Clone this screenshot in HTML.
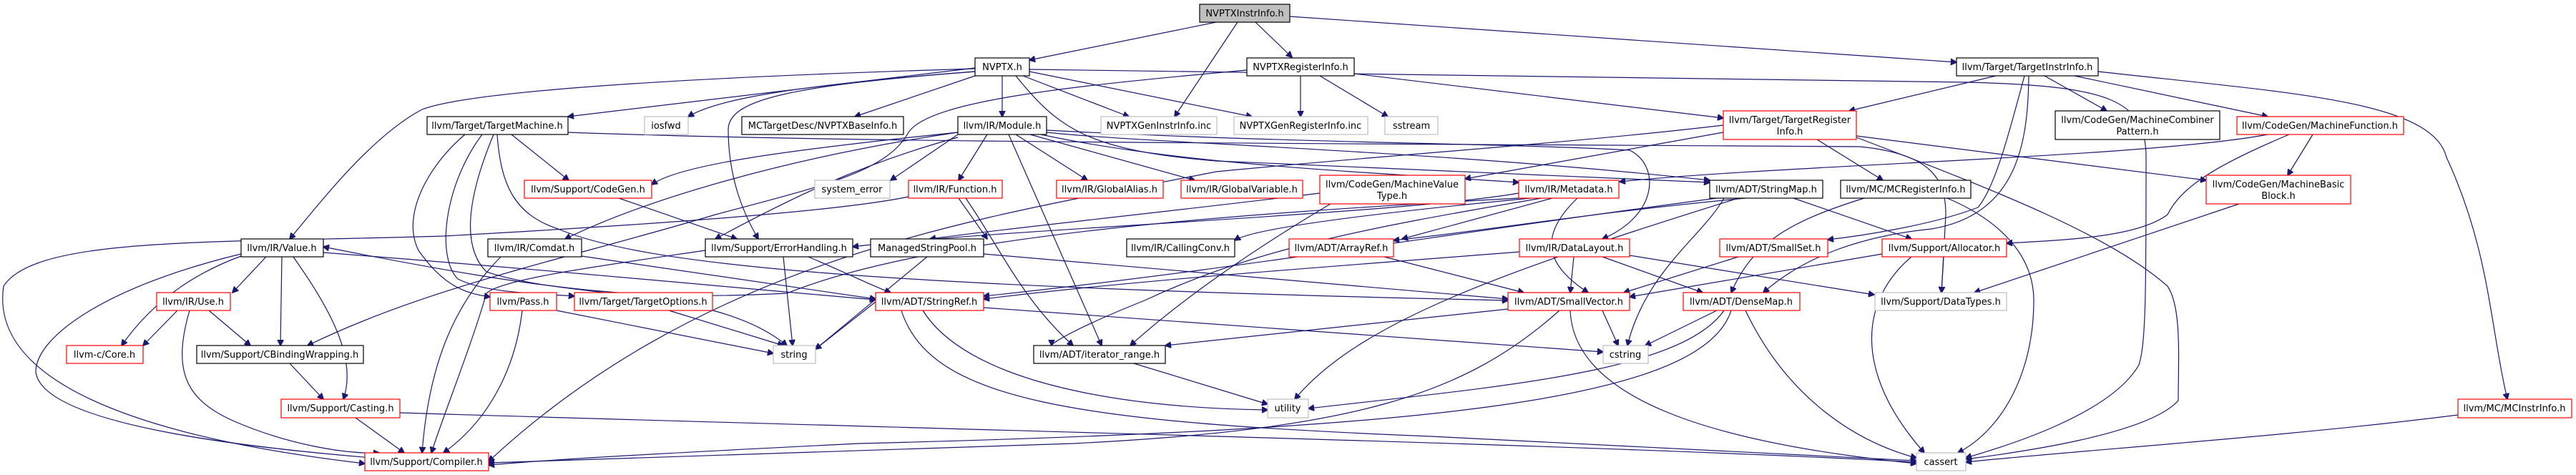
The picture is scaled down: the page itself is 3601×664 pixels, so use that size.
<!DOCTYPE html>
<html><head><meta charset="utf-8"><style>
html,body{margin:0;padding:0;background:#fff}
svg{display:block}
text{font-family:"DejaVu Sans","Liberation Sans",sans-serif;font-size:13px;fill:#000}
.e{fill:none;stroke:#191970;stroke-width:1.2}
.b{fill:#fff;stroke:#000;stroke-width:1.2}
.r{fill:#fff;stroke:#ff0000;stroke-width:1.2}
.g{fill:#fff;stroke:#bfbfbf;stroke-width:1.2}
</style></head><body>
<svg width="3601" height="664" viewBox="0 0 3601 664" xmlns="http://www.w3.org/2000/svg">
<defs><marker id="a" viewBox="0 0 10 10" refX="9" refY="5" markerWidth="9" markerHeight="9" orient="auto" markerUnits="userSpaceOnUse"><path d="M0,0 L10,5 L0,10 z" fill="#191970" stroke="#191970"/></marker></defs>
<g class="e" marker-end="url(#a)">
<path d="M1700,31 L1439,84"/>
<path d="M1730,31 L1642,163"/>
<path d="M1755,31 L1806,80"/>
<path d="M1803,23 L2735,87"/>
<path d="M1363,95 L794,163"/>
<path d="M1363,100 C1100,120 1000,140 962,163"/>
<path d="M1363,106 L1195,163"/>
<path d="M1401,106 L1401,163"/>
<path d="M1430,106 L1578,163"/>
<path d="M1439,100 L1750,163"/>
<path d="M1363,96 C900,110 650,130 590,153 C520,190 450,280 405,334"/>
<path d="M1363,100 C1100,120 1020,140 1018,180 C1018,250 1040,300 1060,334"/>
<path d="M1420,106 C1480,180 1520,210 1700,225 C2000,240 2200,245 2390,255"/>
<path d="M1439,97 C2000,105 2500,110 2750,115 C2950,120 3000,140 3000,220 C3000,400 3000,480 2990,510 C2950,580 2800,625 2748,640"/>
<path d="M1818,106 L1818,163"/>
<path d="M1845,106 L1940,163"/>
<path d="M1893,103 L2409,165"/>
<path d="M1743,98 C1500,120 1300,140 1270,185 C1240,240 1150,260 1000,300 C800,360 600,400 430,483"/>
<path d="M2790,106 L2585,155"/>
<path d="M2858,106 L2945,155"/>
<path d="M2900,106 L3170,163"/>
<path d="M2933,100 C3200,130 3400,140 3420,220 C3480,350 3480,450 3505,558"/>
<path d="M2830,106 C2810,180 2790,260 2765,290 C2700,315 2600,330 2555,335"/>
<path d="M2836,106 C2835,200 2820,300 2700,320 C2600,330 2520,360 2465,409"/>
<path d="M2595,190 L3084,252"/>
<path d="M2540,195 L2632,252"/>
<path d="M2595,192 C2800,270 2950,330 3030,400 C3050,430 3045,500 3045,560 C3000,610 2800,635 2748,642"/>
<path d="M2409,185 L2048,250"/>
<path d="M3170,188 C3000,220 2500,230 2264,254"/>
<path d="M3233,188 L3198,245"/>
<path d="M3200,188 C3100,230 3050,260 3030,300 C2990,330 2900,335 2805,340"/>
<path d="M3130,285 L2760,409"/>
<path d="M2507,277 L2672,334"/>
<path d="M2722,277 C2800,310 2843,360 2843,420 C2843,520 2800,600 2737,633"/>
<path d="M2606,277 C2500,310 2450,340 2420,409"/>
<path d="M2717,359 L2714,409"/>
<path d="M2672,359 C2600,420 2590,520 2690,633"/>
<path d="M2631,355 L2278,415"/>
<path d="M2430,359 L2270,409"/>
<path d="M2200,359 L2195,409"/>
<path d="M2240,359 L2380,409"/>
<path d="M2278,357 L2620,412"/>
<path d="M2124,352 C1900,370 1600,390 1375,418"/>
<path d="M2240,434 L2262,483"/>
<path d="M2108,432 L1629,483"/>
<path d="M2180,434 C2050,550 1900,600 1500,620 C1200,630 900,640 683,647"/>
<path d="M2195,434 C2200,560 2400,620 2679,648"/>
<path d="M2400,434 L2300,483"/>
<path d="M2410,434 C2350,520 2100,540 1829,571"/>
<path d="M2440,434 C2500,560 2600,620 2679,640"/>
<path d="M2420,434 C2380,560 2000,600 1200,620 C1000,630 800,640 683,650"/>
<path d="M1224,422 L1140,488"/>
<path d="M1375,430 L2241,492"/>
<path d="M1290,434 C1350,530 1550,570 1772,573"/>
<path d="M1260,434 C1300,560 1500,590 2000,610 C2300,625 2500,635 2679,644"/>
<path d="M1585,508 L1772,565"/>
<path d="M452,353 C800,380 1000,400 1224,419"/>
<path d="M372,359 L325,409"/>
<path d="M394,359 L392,483"/>
<path d="M410,359 C460,430 500,500 480,558"/>
<path d="M337,358 C250,390 200,440 170,483"/>
<path d="M337,355 C150,400 50,470 50,520 C60,600 400,630 520,640"/>
<path d="M248,434 L200,483"/>
<path d="M292,434 L350,483"/>
<path d="M265,434 C240,520 260,560 330,590 C400,620 480,635 530,633"/>
<path d="M405,508 L452,558"/>
<path d="M497,584 L565,633"/>
<path d="M559,577 C1300,600 2200,620 2679,646"/>
<path d="M700,359 C640,420 600,500 590,633"/>
<path d="M813,358 L1224,418"/>
<path d="M986,350 C850,370 700,390 680,410 C660,480 620,580 603,633"/>
<path d="M1095,359 L1108,483"/>
<path d="M1130,359 C1180,380 1220,400 1245,409"/>
<path d="M730,434 C720,520 680,590 620,633"/>
<path d="M778,434 L1081,494"/>
<path d="M935,434 L1095,483"/>
<path d="M865,277 L1030,334"/>
<path d="M650,188 C600,230 560,300 585,350 C620,400 650,410 685,415"/>
<path d="M674,188 C620,260 610,360 640,390 C680,410 750,410 803,414"/>
<path d="M690,188 C660,260 640,340 680,380 C800,420 1000,400 1100,483"/>
<path d="M695,188 C700,260 720,300 780,320 C900,370 1200,400 2108,420"/>
<path d="M715,188 L795,252"/>
<path d="M794,185 C1200,200 1800,200 2600,205 C2700,215 2720,250 2720,300 L2714,409"/>
<path d="M1270,275 C1150,300 800,320 620,330 C300,340 50,330 5,400 C-10,500 100,600 510,648"/>
<path d="M1340,277 L1380,334"/>
<path d="M1350,277 C1400,350 1430,420 1500,483"/>
<path d="M1296,359 L1140,488"/>
<path d="M1375,355 L2108,418"/>
<path d="M1339,188 L1245,252"/>
<path d="M1380,188 L1340,252"/>
<path d="M1420,188 L1520,252"/>
<path d="M1440,188 L1670,252"/>
<path d="M1455,188 C1650,230 1900,240 2123,255"/>
<path d="M1463,182 C1800,200 2100,200 2278,210 C2320,230 2320,300 2240,334"/>
<path d="M1463,185 C1600,200 2000,210 2390,252"/>
<path d="M1410,188 L1540,483"/>
<path d="M1339,185 C1100,220 900,280 790,334"/>
<path d="M1339,185 C1100,210 950,230 911,258"/>
<path d="M1339,192 C1200,230 1100,280 1000,334"/>
<path d="M2123,270 C1950,300 1400,320 1192,345"/>
<path d="M2140,277 C1900,300 1750,320 1726,336"/>
<path d="M2170,277 L1960,334"/>
<path d="M2205,277 C2150,330 2160,370 2220,409"/>
<path d="M2123,277 C1700,300 1300,330 1100,410 C900,420 780,410 452,345"/>
<path d="M2155,277 C1900,320 1750,350 1600,420 C1500,460 1470,480 1470,483"/>
<path d="M1845,270 C1600,300 1400,320 1300,334"/>
<path d="M1860,285 C1750,350 1650,420 1580,483"/>
<path d="M1935,359 L2130,409"/>
<path d="M2410,277 C2380,330 2300,380 2275,483"/>
<path d="M2440,277 C2200,300 2100,320 1948,336"/>
<path d="M2400,277 C2000,330 1700,380 1375,414"/>
<path d="M2430,277 C2100,380 1900,450 1810,558"/>
<path d="M3436,580 C3200,610 2900,630 2748,646"/>
<path d="M2409,175 C2200,200 1900,220 1700,240 C1400,300 1000,350 683,645"/>
</g>
<g>
<rect x="1677" y="6" width="126" height="25" fill="#bfbfbf" stroke="#000" stroke-width="1.2"/><text x="1740" y="23" text-anchor="middle">NVPTXInstrInfo.h</text>
<rect class="b" x="1363" y="81" width="76" height="25"/><text x="1401" y="98" text-anchor="middle">NVPTX.h</text>
<rect class="b" x="1743" y="81" width="150" height="25"/><text x="1818" y="98" text-anchor="middle">NVPTXRegisterInfo.h</text>
<rect class="b" x="2735" y="81" width="198" height="25"/><text x="2834" y="98" text-anchor="middle">llvm/Target/TargetInstrInfo.h</text>
<rect class="b" x="597" y="163" width="197" height="25"/><text x="695" y="180" text-anchor="middle">llvm/Target/TargetMachine.h</text>
<rect class="g" x="901" y="163" width="61" height="25"/><text x="931" y="180" text-anchor="middle">iosfwd</text>
<rect class="b" x="1037" y="163" width="226" height="25"/><text x="1150" y="180" text-anchor="middle">MCTargetDesc/NVPTXBaseInfo.h</text>
<rect class="b" x="1339" y="163" width="124" height="25"/><text x="1401" y="180" text-anchor="middle">llvm/IR/Module.h</text>
<rect class="g" x="1539" y="163" width="162" height="25"/><text x="1620" y="180" text-anchor="middle">NVPTXGenInstrInfo.inc</text>
<rect class="g" x="1725" y="163" width="187" height="25"/><text x="1818" y="180" text-anchor="middle">NVPTXGenRegisterInfo.inc</text>
<rect class="g" x="1936" y="163" width="74" height="25"/><text x="1973" y="180" text-anchor="middle">sstream</text>
<rect class="r" x="2409" y="155" width="186" height="40"/><text x="2502" y="172" text-anchor="middle">llvm/Target/TargetRegister</text><text x="2502" y="188" text-anchor="middle">Info.h</text>
<rect class="b" x="2873" y="155" width="230" height="40"/><text x="2988" y="172" text-anchor="middle">llvm/CodeGen/MachineCombiner</text><text x="2988" y="188" text-anchor="middle">Pattern.h</text>
<rect class="r" x="3127" y="163" width="233" height="25"/><text x="3243" y="180" text-anchor="middle">llvm/CodeGen/MachineFunction.h</text>
<rect class="r" x="733" y="252" width="178" height="25"/><text x="822" y="269" text-anchor="middle">llvm/Support/CodeGen.h</text>
<rect class="g" x="1139" y="252" width="105" height="25"/><text x="1191" y="269" text-anchor="middle">system_error</text>
<rect class="r" x="1270" y="252" width="131" height="25"/><text x="1335" y="269" text-anchor="middle">llvm/IR/Function.h</text>
<rect class="r" x="1477" y="252" width="149" height="25"/><text x="1551" y="269" text-anchor="middle">llvm/IR/GlobalAlias.h</text>
<rect class="r" x="1651" y="252" width="170" height="25"/><text x="1736" y="269" text-anchor="middle">llvm/IR/GlobalVariable.h</text>
<rect class="r" x="1845" y="245" width="203" height="40"/><text x="1946" y="262" text-anchor="middle">llvm/CodeGen/MachineValue</text><text x="1946" y="278" text-anchor="middle">Type.h</text>
<rect class="r" x="2123" y="252" width="140" height="25"/><text x="2193" y="269" text-anchor="middle">llvm/IR/Metadata.h</text>
<rect class="b" x="2390" y="252" width="158" height="25"/><text x="2469" y="269" text-anchor="middle">llvm/ADT/StringMap.h</text>
<rect class="b" x="2573" y="252" width="182" height="25"/><text x="2664" y="269" text-anchor="middle">llvm/MC/MCRegisterInfo.h</text>
<rect class="r" x="3084" y="245" width="202" height="40"/><text x="3185" y="262" text-anchor="middle">llvm/CodeGen/MachineBasic</text><text x="3185" y="278" text-anchor="middle">Block.h</text>
<rect class="b" x="337" y="334" width="115" height="25"/><text x="394" y="351" text-anchor="middle">llvm/IR/Value.h</text>
<rect class="b" x="682" y="334" width="131" height="25"/><text x="747" y="351" text-anchor="middle">llvm/IR/Comdat.h</text>
<rect class="b" x="986" y="334" width="206" height="25"/><text x="1089" y="351" text-anchor="middle">llvm/Support/ErrorHandling.h</text>
<rect class="b" x="1217" y="334" width="158" height="25"/><text x="1296" y="351" text-anchor="middle">ManagedStringPool.h</text>
<rect class="b" x="1575" y="334" width="151" height="25"/><text x="1650" y="351" text-anchor="middle">llvm/IR/CallingConv.h</text>
<rect class="r" x="1802" y="334" width="146" height="25"/><text x="1875" y="351" text-anchor="middle">llvm/ADT/ArrayRef.h</text>
<rect class="r" x="2124" y="334" width="154" height="25"/><text x="2201" y="351" text-anchor="middle">llvm/IR/DataLayout.h</text>
<rect class="r" x="2404" y="334" width="151" height="25"/><text x="2479" y="351" text-anchor="middle">llvm/ADT/SmallSet.h</text>
<rect class="r" x="2631" y="334" width="174" height="25"/><text x="2718" y="351" text-anchor="middle">llvm/Support/Allocator.h</text>
<rect class="r" x="219" y="409" width="103" height="25"/><text x="270" y="426" text-anchor="middle">llvm/IR/Use.h</text>
<rect class="r" x="685" y="409" width="93" height="25"/><text x="731" y="426" text-anchor="middle">llvm/Pass.h</text>
<rect class="r" x="803" y="409" width="193" height="25"/><text x="899" y="426" text-anchor="middle">llvm/Target/TargetOptions.h</text>
<rect class="r" x="1224" y="409" width="151" height="25"/><text x="1299" y="426" text-anchor="middle">llvm/ADT/StringRef.h</text>
<rect class="r" x="2108" y="409" width="170" height="25"/><text x="2193" y="426" text-anchor="middle">llvm/ADT/SmallVector.h</text>
<rect class="r" x="2353" y="409" width="163" height="25"/><text x="2434" y="426" text-anchor="middle">llvm/ADT/DenseMap.h</text>
<rect class="g" x="2621" y="409" width="184" height="25"/><text x="2713" y="426" text-anchor="middle">llvm/Support/DataTypes.h</text>
<rect class="r" x="93" y="483" width="107" height="25"/><text x="146" y="500" text-anchor="middle">llvm-c/Core.h</text>
<rect class="b" x="275" y="483" width="233" height="25"/><text x="391" y="500" text-anchor="middle">llvm/Support/CBindingWrapping.h</text>
<rect class="g" x="1081" y="483" width="59" height="25"/><text x="1110" y="500" text-anchor="middle">string</text>
<rect class="b" x="1445" y="483" width="184" height="25"/><text x="1537" y="500" text-anchor="middle">llvm/ADT/iterator_range.h</text>
<rect class="g" x="2241" y="483" width="63" height="25"/><text x="2272" y="500" text-anchor="middle">cstring</text>
<rect class="r" x="393" y="558" width="166" height="26"/><text x="476" y="575" text-anchor="middle">llvm/Support/Casting.h</text>
<rect class="g" x="1772" y="558" width="57" height="26"/><text x="1800" y="575" text-anchor="middle">utility</text>
<rect class="r" x="3436" y="558" width="159" height="26"/><text x="3515" y="575" text-anchor="middle">llvm/MC/MCInstrInfo.h</text>
<rect class="r" x="510" y="633" width="173" height="25"/><text x="596" y="650" text-anchor="middle">llvm/Support/Compiler.h</text>
<rect class="g" x="2679" y="633" width="69" height="25"/><text x="2713" y="650" text-anchor="middle">cassert</text>
</g>
</svg>
</body></html>
